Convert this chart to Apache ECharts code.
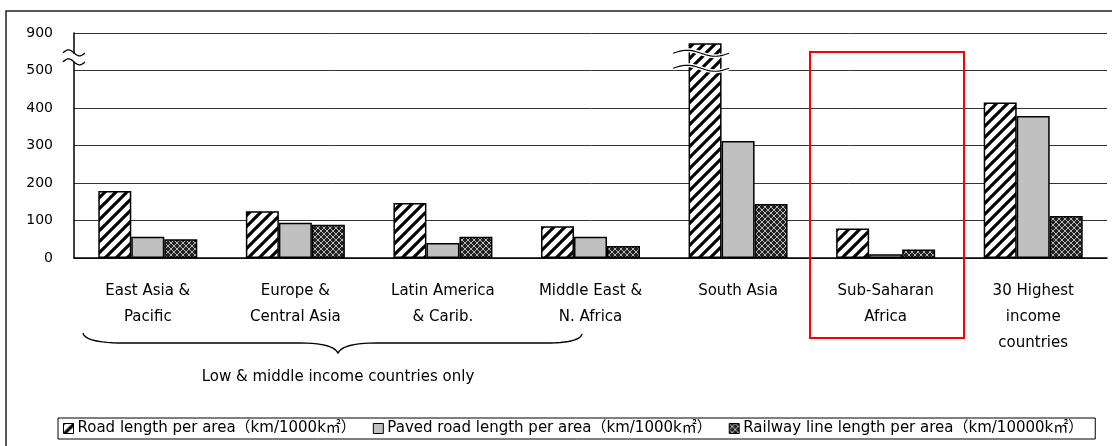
<!DOCTYPE html>
<html>
<head>
<meta charset="utf-8">
<script src="https://cdn.jsdelivr.net/npm/echarts@6/dist/echarts.min.js"></script>
<style>
  html, body { margin: 0; padding: 0; background: #fff; }
  #chart { width: 1112px; height: 446px; }
</style>
</head>
<body>
<div id="chart"></div>
<script>
// Regions compared
const categories = [
  'East Asia &\nPacific',
  'Europe &\nCentral Asia',
  'Latin America\n& Carib.',
  'Middle East &\nN. Africa',
  'South Asia',
  'Sub-Saharan\nAfrica',
  '30 Highest\nincome\ncountries'
];
// Road length per area (km/1000 km2)
const roadDensity = [179, 125, 147, 85, 790, 79, 415];
// Paved road length per area (km/1000 km2)
const pavedDensity = [57, 94, 40, 57, 312, 10, 379];
// Railway line length per area (km/10000 km2)
const railDensity = [50, 89, 57, 32, 144, 23, 112];
// Value-axis ticks; the range above 500 is compressed (break up to 900)
const axisTicks = [0, 100, 200, 300, 400, 500, 900];

const seriesNames = [
  'Road length per area（km/1000k㎡）',
  'Paved road length per area（km/1000k㎡）',
  'Railway line length per area（km/10000k㎡）'
];

const BREAK_LOW = 500, BREAK_HIGH = 900, BREAK_SPAN = 100;
// map a real value onto the broken axis
function toAxis(v) {
  if (v <= BREAK_LOW) return v;
  return BREAK_LOW + (v - BREAK_LOW) * BREAK_SPAN / (BREAK_HIGH - BREAK_LOW);
}
function toLabel(a) {
  for (const t of axisTicks) if (Math.abs(toAxis(t) - a) < 1e-6) return String(t);
  return '';
}

function stripePattern() {
  const s = 11;
  const c = document.createElement('canvas');
  c.width = s; c.height = s;
  const g = c.getContext('2d');
  g.fillStyle = '#fff'; g.fillRect(0, 0, s, s);
  g.strokeStyle = '#000'; g.lineWidth = 3.1;
  g.beginPath();
  for (const o of [-s, 0, s]) { g.moveTo(o - 1, s + 1); g.lineTo(o + s + 1, -1); }
  g.stroke();
  return c;
}
function crossPattern() {
  const s = 6;
  const c = document.createElement('canvas');
  c.width = s; c.height = s;
  const g = c.getContext('2d');
  g.fillStyle = '#222'; g.fillRect(0, 0, s, s);
  g.strokeStyle = '#b8b8b8'; g.lineWidth = 1;
  g.beginPath();
  g.moveTo(0, 0); g.lineTo(s, s);
  g.moveTo(s, 0); g.lineTo(0, s);
  g.stroke();
  return c;
}

const fills = [
  { image: stripePattern(), repeat: 'repeat' },
  '#c0c0c0',
  { image: crossPattern(), repeat: 'repeat' }
];
const dataSets = [roadDensity, pavedDensity, railDensity];

const FONT = '"DejaVu Sans", "Noto Sans CJK JP", sans-serif';

const chart = echarts.init(document.getElementById('chart'), null, { renderer: 'canvas' });

const option = {
  animation: false,
  backgroundColor: '#fff',
  grid: { left: 74, right: 5, top: 33, bottom: 188, containLabel: false },
  legend: {
    left: 58, top: 418,
    itemWidth: 10, itemHeight: 10, itemGap: 17,
    icon: 'rect',
    padding: [3, 12, 3, 5],
    borderColor: '#000', borderWidth: 1,
    textStyle: { fontFamily: FONT, fontSize: 15, color: '#000', padding: [0, 0, 0, -1] },
    itemStyle: { borderColor: '#000', borderWidth: 1 },
    data: seriesNames
  },
  xAxis: {
    type: 'category',
    data: categories,
    axisLine: { lineStyle: { color: '#000', width: 1.5 } },
    axisTick: { inside: true, length: 5, lineStyle: { color: '#000' } },
    axisLabel: {
      interval: 0, margin: 20,
      fontFamily: FONT, fontSize: 15, lineHeight: 26, color: '#000'
    }
  },
  yAxis: {
    type: 'value',
    min: 0, max: 600, interval: 100,
    axisLine: { show: true, lineStyle: { color: '#000', width: 1.5 } },
    axisTick: { show: false },
    splitLine: { lineStyle: { color: '#333', width: 1 } },
    axisLabel: {
      margin: 21, fontFamily: FONT, fontSize: 14, color: '#000',
      formatter: (v) => toLabel(v)
    }
  },
  series: dataSets.map((vals, i) => ({
    name: seriesNames[i],
    type: 'bar',
    barWidth: 33,
    barGap: '0%',
    data: vals.map(toAxis),
    itemStyle: { color: fills[i], borderColor: '#000', borderWidth: 1.5 }
  }))
};
chart.setOption(option);

// wavy break mark as a sampled polyline
function tildePoints(cx, cy, half) {
  const pts = [];
  for (let k = 0; k <= 24; k++) {
    const t = k / 24;
    pts.push([cx - half + 2 * half * t, cy - 3 * Math.sin(2 * Math.PI * t)]);
  }
  return pts;
}
// quadratic Bezier sampled into points
function quad(p0, p1, p2, n) {
  const pts = [];
  for (let k = 0; k <= n; k++) {
    const t = k / n, u = 1 - t;
    pts.push([u * u * p0[0] + 2 * u * t * p1[0] + t * t * p2[0],
              u * u * p0[1] + 2 * u * t * p1[1] + t * t * p2[1]]);
  }
  return pts;
}

// annotations: axis break marks, bracket under the first four regions, highlight box
function drawAnnotations() {
  const p500 = chart.convertToPixel({ yAxisIndex: 0 }, toAxis(500));
  const p900 = chart.convertToPixel({ yAxisIndex: 0 }, toAxis(900));
  const x0 = 74;
  const yA = p900 + (p500 - p900) * 0.53;
  const yB = p900 + (p500 - p900) * 0.77;

  const cSA = chart.convertToPixel({ xAxisIndex: 0 }, 4);
  const barC = cSA - 33;
  const yC = p900 + (p500 - p900) * 0.54;
  const yD = p900 + (p500 - p900) * 0.94;

  const brace = [].concat(
    quad([83, 333], [85, 343], [125, 343], 12),
    [[300, 343]],
    quad([300, 343], [333, 343], [338, 353], 10),
    quad([338, 353], [343, 343], [376, 343], 10),
    [[545, 343]],
    quad([545, 343], [580, 343], [582, 334], 12)
  );

  const wave = (pts, color, w, z) => ({
    type: 'polyline', shape: { points: pts },
    style: { fill: null, stroke: color, lineWidth: w }, z: z
  });

  const graphic = [
    // outer frame
    { type: 'rect', shape: { x: 6, y: 11, width: 1200, height: 500 },
      style: { fill: null, stroke: '#222', lineWidth: 1.5 }, z: 0 },
    // white band hiding the axis between break marks
    { type: 'rect', shape: { x: x0 - 3, y: yA + 1, width: 6, height: yB - yA - 1 },
      style: { fill: '#fff' }, z: 50 },
    wave(tildePoints(x0, yA, 11), '#000', 1.3, 51),
    wave(tildePoints(x0, yB, 11), '#000', 1.3, 51),
    // break marks on the tall South Asia bar
    wave(tildePoints(barC - 4, yC, 28), '#fff', 4, 50),
    wave(tildePoints(barC - 4, yC, 28), '#000', 1.2, 51),
    wave(tildePoints(barC - 4, yD, 28), '#fff', 4, 50),
    wave(tildePoints(barC - 4, yD, 28), '#000', 1.2, 51),
    // curly bracket grouping low & middle income regions
    { type: 'polyline', shape: { points: brace },
      style: { fill: null, stroke: '#000', lineWidth: 1.4 }, z: 20 },
    { type: 'text', x: 338, y: 377,
      style: { text: 'Low & middle income countries only', fontFamily: FONT, fontSize: 15,
               fill: '#000', align: 'center', verticalAlign: 'middle' }, z: 20 },
    // highlight box around Sub-Saharan Africa
    { type: 'rect', shape: { x: 810, y: 52, width: 154, height: 286 },
      style: { fill: null, stroke: '#ff0000', lineWidth: 2 }, z: 60 }
  ];
  chart.setOption({ graphic: graphic });
}
drawAnnotations();
</script>
</body>
</html>
